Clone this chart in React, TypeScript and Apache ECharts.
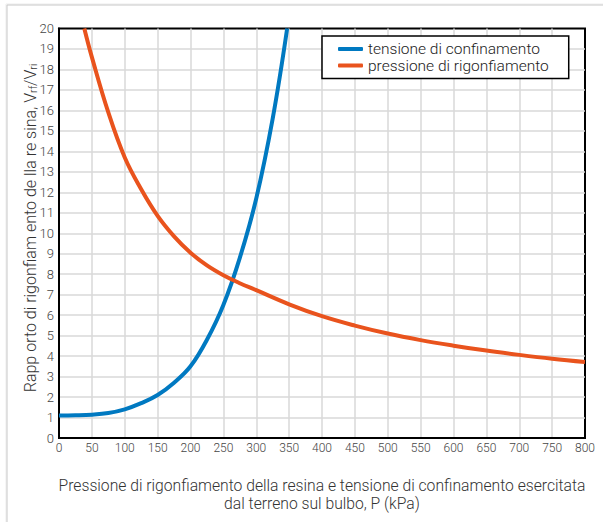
import React, { useEffect, useRef } from "react";
import * as echarts from "echarts";

// Pressure axis (kPa) and swelling ratio readings for each curve
const confinementP = [0, 25, 50, 75, 100, 125, 150, 175, 200, 225, 250, 275, 300, 325, 347];
const confinementRatio = [1.1, 1.11, 1.14, 1.22, 1.4, 1.7, 2.1, 2.7, 3.5, 4.8, 6.5, 8.8, 11.7, 15.6, 20];

const swellingP = [38.5, 50, 75, 100, 125, 150, 175, 200, 225, 250, 275, 300, 350, 400, 450, 500, 550, 600, 650, 700, 750, 800];
const swellingRatio = [20, 18.6, 15.9, 13.7, 12.15, 10.85, 9.85, 9.05, 8.43, 7.95, 7.56, 7.22, 6.53, 5.95, 5.49, 5.1, 4.78, 4.51, 4.27, 4.06, 3.87, 3.71];

const seriesNames = ["tensione di confinamento", "pressione di rigonfiamento"];
const xTitle = ["Pressione di rigonfiamento della resina e tensione di confinamento esercitata", "dal terreno sul bulbo, P (kPa)"];

const BLUE = "#0079c1";
const ORANGE = "#e9531d";
const FONT = "Roboto, 'Noto Sans', sans-serif";

export default function App() {
  const ref = useRef<HTMLDivElement>(null);

  useEffect(() => {
    document.body.style.margin = "0";
    if (!ref.current) return;
    const chart = echarts.init(ref.current, undefined, { renderer: "svg" });

    const pairs = (xs: number[], ys: number[]) => xs.map((x, i) => [x, ys[i]]);

    chart.setOption({
      animation: false,
      backgroundColor: "#fff",
      textStyle: { fontFamily: FONT },
      grid: {
        left: 59,
        right: 18,
        top: 28.5,
        bottom: 84,
        show: true,
        borderColor: "#000",
        borderWidth: 2,
        backgroundColor: "transparent",
      },
      legend: {
        data: seriesNames,
        orient: "vertical",
        left: 322,
        top: 36,
        padding: [5, 20, 5, 16],
        itemGap: 0.5,
        itemWidth: 25,
        itemHeight: 4,
        icon: "roundRect",
        backgroundColor: "#fff",
        borderColor: "#000",
        borderWidth: 1.5,
        borderRadius: 0,
        textStyle: { fontSize: 15.5, lineHeight: 15, color: "#222", fontFamily: FONT, fontWeight: 300 },
      },
      xAxis: {
        type: "value",
        min: 0,
        max: 800,
        interval: 50,
        axisLine: { show: true, onZero: false, lineStyle: { color: "#000", width: 2 } },
        axisTick: { show: false },
        axisLabel: { fontSize: 12, color: "#444", margin: 4, fontFamily: FONT, fontWeight: 300 },
        splitLine: { show: true, showMinLine: false, showMaxLine: false, lineStyle: { color: "#d9d9d9", width: 1.5 } },
      },
      yAxis: {
        type: "value",
        min: 0,
        max: 20,
        interval: 1,
        axisLine: { show: true, onZero: false, lineStyle: { color: "#000", width: 2 } },
        axisTick: { show: false },
        axisLabel: { fontSize: 13, color: "#444", margin: 5, fontFamily: FONT, fontWeight: 300 },
        splitLine: { show: true, showMinLine: false, showMaxLine: false, lineStyle: { color: "#d9d9d9", width: 1.5 } },
      },
      series: [
        {
          name: seriesNames[0],
          type: "line",
          data: pairs(confinementP, confinementRatio),
          showSymbol: false,
          smooth: 0.4,
          color: BLUE,
          lineStyle: { color: BLUE, width: 4 },
          clip: true,
        },
        {
          name: seriesNames[1],
          type: "line",
          data: pairs(swellingP, swellingRatio),
          showSymbol: false,
          smooth: 0.4,
          color: ORANGE,
          lineStyle: { color: ORANGE, width: 4 },
          clip: true,
        },
      ],
      graphic: [
        // card edge
        { type: "line", shape: { x1: 6, y1: 4, x2: 6, y2: 522 }, style: { stroke: "#ececec", lineWidth: 1 } },
        { type: "line", shape: { x1: 6, y1: 4, x2: 603, y2: 4 }, style: { stroke: "#ececec", lineWidth: 1 } },
        { type: "line", shape: { x1: 7, y1: 5, x2: 7, y2: 522 }, style: { stroke: "#c8c8c8", lineWidth: 1 } },
        { type: "line", shape: { x1: 7, y1: 5, x2: 603, y2: 5 }, style: { stroke: "#c8c8c8", lineWidth: 1 } },
        {
          type: "text",
          x: 30,
          y: 228,
          rotation: Math.PI / 2,
          style: {
            text: "{m|Rapp orto di rigonfiam ento de lla re sina, V}{s|rf}{m|/V}{s|ri}",
            align: "center",
            verticalAlign: "middle",
            fill: "#333",
            rich: {
              m: { fontSize: 16, fontFamily: FONT, fontWeight: 300, fill: "#333", lineHeight: 20, verticalAlign: "middle" },
              s: { fontSize: 10.5, fontFamily: FONT, fontWeight: 300, fill: "#333", lineHeight: 20, verticalAlign: "bottom", padding: [0, 0, 1, 0] },
            },
          },
        },
        {
          type: "text",
          x: 322,
          y: 476,
          style: {
            text: xTitle.join("\n"),
            align: "center",
            verticalAlign: "top",
            fontSize: 15.7,
            lineHeight: 18,
            fontFamily: FONT,
            fontWeight: 300,
            fill: "#333",
          },
        },
      ],
    });

    return () => chart.dispose();
  }, []);

  return <div ref={ref} style={{ width: 603, height: 522 }} />;
}
